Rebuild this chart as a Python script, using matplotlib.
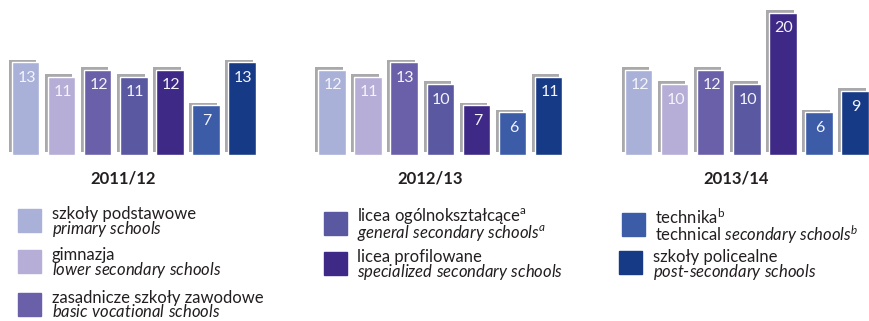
import matplotlib
matplotlib.use("Agg")
import matplotlib.pyplot as plt

# ---- data ----
years = ["2011/12", "2012/13", "2013/14"]
primary = [13, 12, 12]
lower_secondary = [11, 11, 10]
basic_vocational = [12, 13, 12]
general_secondary = [11, 10, 10]
specialized_secondary = [12, 7, 20]
technical_secondary = [7, 6, 6]
post_secondary = [13, 11, 9]

series = [primary, lower_secondary, basic_vocational, general_secondary,
          specialized_secondary, technical_secondary, post_secondary]
colors = ["#a9b1d8", "#b6aed6", "#6a60a9", "#5a58a0", "#3e2986", "#3c5ca8", "#173a86"]

legend_labels = [
    "szkoły podstawowe\n$\\mathit{primary\\ schools}$",
    "gimnazja\n$\\mathit{lower\\ secondary\\ schools}$",
    "zasadnicze szkoły zawodowe\n$\\mathit{basic\\ vocational\\ schools}$",
    "licea ogólnokształcące$^{\\mathrm{a}}$\n$\\mathit{general\\ secondary\\ schools}^{\\mathit{a}}$",
    "licea profilowane\n$\\mathit{specialized\\ secondary\\ schools}$",
    "technika$^{\\mathrm{b}}$\ntechnical $\\mathit{secondary\\ schools}^{\\mathit{b}}$",
    "szkoły policealne\n$\\mathit{post}\\text{-}\\mathit{secondary\\ schools}$",
]

W, H = 869, 321
FONT = "Lato"
plt.rcParams["font.family"] = [FONT, "DejaVu Sans"]
plt.rcParams["mathtext.fontset"] = "custom"
plt.rcParams["mathtext.rm"] = FONT
plt.rcParams["mathtext.it"] = FONT + ":italic"
plt.rcParams["mathtext.bf"] = FONT + ":bold"

fig = plt.figure(figsize=(W / 100, H / 100), dpi=100)
fig.patch.set_facecolor("white")

base_px = 155          # baseline from top
ppu = 7.12             # pixels per unit
ax = fig.add_axes([0, (H - base_px) / H, 1, base_px / H])
ax.set_xlim(0, W)
ax.set_ylim(0, base_px / ppu)
ax.axis("off")

first_center = 25.5
group_step = 306.5
bar_step = 36.1
bar_w = 27.5
shadow_dx = 3.0
shadow_dy = 2.6 / ppu

for g, year in enumerate(years):
    for i, s in enumerate(series):
        xc = first_center + g * group_step + i * bar_step
        v = s[g]
        ax.bar(xc - shadow_dx, v, width=bar_w, bottom=shadow_dy, color="#a9a9ab",
               edgecolor="none", zorder=1)
        ax.bar(xc, v, width=bar_w, color=colors[i], edgecolor="white",
               linewidth=1.0, zorder=2)
        ax.annotate(str(v), xy=(xc + 1, v), xytext=(0, -6.3), textcoords="offset points",
                    ha="center", va="top", color="#f4f4fa", fontsize=11.5, zorder=3)
    gc = first_center + g * group_step + 3 * bar_step - 10.5
    fig.text(gc / W, 1 - 179 / H, year, ha="center", va="center",
             fontsize=12, fontweight="bold", color="#231f20")

# ---- legend ----
def fx(x):
    return x / W

def fy(y):
    return 1 - y / H

sq = 23
# square x, square top y, text x, last-line baseline y
entries = [
    (18, 209, 52, 234),
    (18, 250, 52, 275),
    (18, 293, 52, 317),
    (324, 212, 357, 238),
    (324, 252, 357, 277),
    (622, 213, 655, 241),
    (619, 251, 653, 277),
]
tc = "#231f20"
for k, (sx, sy, tx, b2) in enumerate(entries):
    fig.patches.append(plt.Rectangle((fx(sx), fy(sy + sq)), sq / W, sq / H,
                                     transform=fig.transFigure, color=colors[k],
                                     figure=fig))
    fig.text(fx(tx), fy(b2), legend_labels[k], ha="left", va="baseline",
             fontsize=12, color=tc, linespacing=0.8)

fig.savefig("out.png", dpi=100, facecolor="white")
